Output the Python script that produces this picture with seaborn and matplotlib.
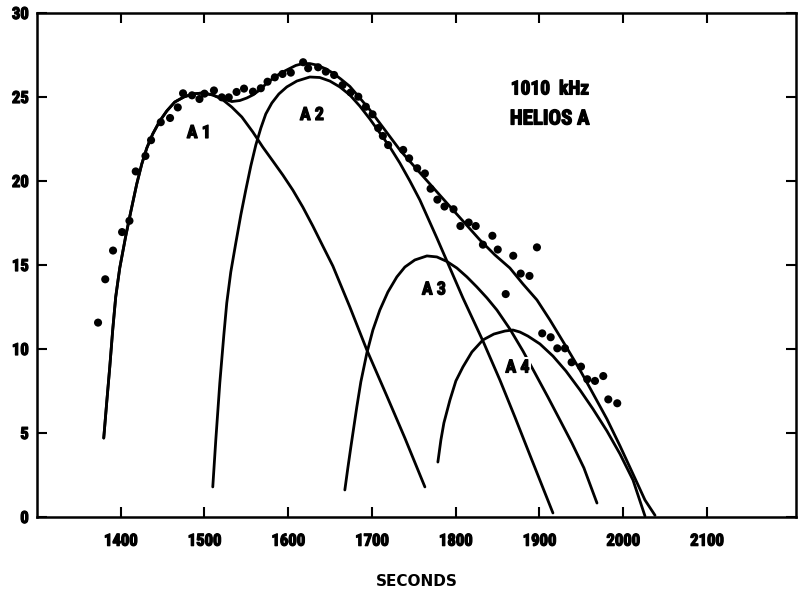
import matplotlib
matplotlib.use("Agg")
import matplotlib.pyplot as plt
from matplotlib import font_manager
import matplotlib.patheffects as pe
import seaborn as sns
import pandas as pd

# ---- data ----
dots_x = [1372.9, 1381.5, 1390.8, 1401.6, 1410.4, 1417.9, 1429.5, 1436.2, 1447.8, 1458.9,
          1468.1, 1474.4, 1485.1, 1494.0, 1500.0, 1511.3, 1520.7, 1529.0, 1538.3, 1547.2,
          1557.9, 1567.3, 1575.3, 1584.0, 1593.2, 1603.1, 1617.8, 1623.8, 1635.7, 1644.9,
          1654.8, 1664.9, 1674.5, 1683.7, 1692.7, 1700.7, 1707.4, 1713.0, 1719.3, 1737.3,
          1744.4, 1754.0, 1763.2, 1770.0, 1778.1, 1786.6, 1797.4, 1805.6, 1815.5, 1823.9,
          1832.5, 1843.8, 1850.2, 1859.7, 1868.7, 1877.6, 1888.1, 1897.0, 1903.3, 1913.4,
          1921.3, 1930.5, 1938.4, 1949.6, 1957.1, 1966.3, 1976.2, 1982.2, 1992.9]
dots_y = [11.57, 14.15, 15.86, 16.96, 17.63, 20.57, 21.49, 22.43, 23.50, 23.75,
          24.38, 25.22, 25.10, 24.88, 25.20, 25.39, 24.98, 24.98, 25.30, 25.50,
          25.32, 25.52, 25.91, 26.17, 26.37, 26.45, 27.07, 26.71, 26.77, 26.51,
          26.31, 25.71, 25.27, 25.02, 24.42, 23.97, 23.15, 22.68, 22.14, 21.85,
          21.35, 20.76, 20.45, 19.54, 18.89, 18.48, 18.32, 17.32, 17.53, 17.32,
          16.21, 16.74, 15.92, 13.27, 15.55, 14.49, 14.35, 16.05, 10.93, 10.70,
          10.04, 10.04, 9.21, 8.95, 8.20, 8.10, 8.39, 7.00, 6.77]

a1_x = [1379.7, 1383.3, 1386.9, 1390.4, 1394.0, 1398.8, 1406.0, 1411.9, 1419.1, 1425.1,
        1431.1, 1438.2, 1446.6, 1455.0, 1464.5, 1475.3, 1486.0, 1498.0, 1509.9, 1520.7,
        1532.6, 1544.6, 1557.7, 1569.6, 1581.6, 1593.5, 1605.5, 1617.4, 1629.4, 1641.3,
        1653.3, 1673.6, 1693.9, 1717.8, 1739.3, 1763.2]
a1_y = [4.70, 6.85, 8.93, 11.13, 13.10, 14.82, 16.73, 18.15, 19.82, 21.01,
        21.96, 22.80, 23.57, 24.17, 24.70, 25.00, 25.18, 25.24, 25.12, 24.88,
        24.40, 23.81, 22.92, 22.02, 21.19, 20.36, 19.46, 18.45, 17.32, 16.13,
        14.94, 12.50, 9.94, 7.20, 4.70, 1.79]

a2_x = [1509.9, 1513.5, 1518.3, 1523.1, 1526.6, 1531.4, 1537.4, 1543.4, 1549.3, 1555.3,
        1561.3, 1567.3, 1573.2, 1580.4, 1588.8, 1598.3, 1610.3, 1625.8, 1637.7, 1649.7,
        1661.6, 1673.6, 1685.5, 1697.5, 1709.4, 1721.4, 1733.3, 1745.3, 1757.2, 1777.5,
        1793.1, 1808.6, 1832.5, 1852.8, 1870.7, 1888.6, 1904.2, 1916.1]
a2_y = [1.79, 4.58, 7.98, 10.83, 12.74, 14.58, 16.31, 17.98, 19.46, 20.89,
        22.14, 23.15, 23.99, 24.64, 25.18, 25.60, 25.95, 26.19, 26.16, 25.95,
        25.60, 25.12, 24.46, 23.69, 22.86, 22.02, 21.07, 20.00, 18.87, 16.61,
        14.82, 13.04, 10.48, 8.15, 5.95, 3.69, 1.73, 0.24]

a3_x = [1667.6, 1671.2, 1674.8, 1681.9, 1686.7, 1693.9, 1701.1, 1709.4, 1719.0, 1729.7,
        1739.3, 1751.2, 1765.6, 1777.5, 1789.5, 1801.4, 1813.4, 1825.3, 1837.3, 1849.2,
        1864.7, 1880.3, 1894.6, 1910.1, 1924.5, 1938.8, 1953.1, 1968.7]
a3_y = [1.61, 2.92, 4.17, 6.55, 8.04, 9.76, 11.13, 12.32, 13.39, 14.29,
        14.88, 15.30, 15.54, 15.48, 15.21, 14.82, 14.29, 13.69, 13.04, 12.32,
        11.19, 9.88, 8.57, 7.14, 5.77, 4.40, 2.92, 0.83]

a4_x = [1778.7, 1782.3, 1785.9, 1793.1, 1800.2, 1808.6, 1819.3, 1832.5, 1845.6, 1858.8,
        1868.3, 1876.7, 1886.2, 1900.6, 1916.1, 1931.6, 1948.4, 1963.9, 1980.6, 1996.2,
        2011.7, 2026.0]
a4_y = [3.27, 4.58, 5.60, 6.96, 8.10, 8.93, 9.82, 10.54, 10.89, 11.07,
        11.13, 11.01, 10.77, 10.30, 9.58, 8.69, 7.56, 6.43, 5.12, 3.75,
        2.20, 0.06]

sum_x = [1379.7, 1383.3, 1386.9, 1390.4, 1394.0, 1398.8, 1406.0, 1411.9, 1419.1, 1425.1,
         1431.1, 1438.2, 1446.6, 1455.0, 1464.5, 1475.3, 1486.0, 1498.0, 1509.9, 1520.7,
         1532.6, 1542.2, 1550.5, 1557.7, 1566.1, 1573.2, 1581.6, 1591.2, 1601.9, 1609.1,
         1617.4, 1625.8, 1634.2, 1643.7, 1653.3, 1662.8, 1673.6, 1685.5, 1697.5, 1715.4,
         1733.3, 1751.2, 1769.2, 1788.3, 1808.6, 1828.9, 1846.8, 1864.7, 1880.3, 1897.0,
         1912.5, 1932.8, 1948.4, 1960.3, 1980.6, 1996.2, 2011.7, 2026.0, 2038.0]
sum_y = [4.70, 6.85, 8.93, 11.13, 13.10, 14.82, 16.73, 18.15, 19.82, 21.01,
         21.96, 22.80, 23.57, 24.17, 24.70, 25.00, 25.18, 25.24, 25.12, 24.91,
         24.73, 24.79, 24.94, 25.12, 25.42, 25.77, 26.10, 26.43, 26.70, 26.88,
         26.99, 26.99, 26.90, 26.70, 26.43, 26.07, 25.63, 24.94, 24.23, 23.04,
         21.85, 20.83, 19.82, 18.75, 17.62, 16.49, 15.60, 14.82, 13.87, 12.92,
         11.73, 10.06, 8.75, 7.68, 5.83, 4.23, 2.56, 1.01, 0.10]

labels = ["A 1", "A 2", "A 3", "A 4"]
label_x = [1493.2, 1628.2, 1773.9, 1873.7]
label_y = [22.86, 23.93, 13.54, 8.90]

x_ticks = [1400, 1500, 1600, 1700, 1800, 1900, 2000, 2100]
y_ticks = [0, 5, 10, 15, 20, 25, 30]

# ---- style ----
sns.set_style("ticks")
names = {f.name for f in font_manager.fontManager.ttflist}
cond = None
for cand in ["Liberation Sans Narrow", "Roboto Condensed", "DejaVu Sans Condensed",
             "Open Sans Condensed", "Noto Sans Condensed", "Arial Narrow"]:
    if cand in names:
        cond = cand
        break
if cond is None:
    cond = "DejaVu Sans"
    plt.rcParams["font.stretch"] = "condensed"
plt.rcParams["font.family"] = [cond, "DejaVu Sans"]
plt.rcParams["font.weight"] = "bold"
for k in ["text.color", "axes.labelcolor", "xtick.color", "ytick.color", "axes.edgecolor"]:
    plt.rcParams[k] = "black"

heavy = [pe.withStroke(linewidth=0.9, foreground="black")]

fig = plt.figure(figsize=(7.99, 5.93), dpi=100)
ax = fig.add_axes([37 / 799, 76 / 593, 758.7 / 799, 504 / 593])

lw = 2.0
for cx, cy in [(a1_x, a1_y), (a2_x, a2_y), (a3_x, a3_y), (a4_x, a4_y), (sum_x, sum_y)]:
    df = pd.DataFrame({"t": cx, "v": cy})
    sns.lineplot(data=df, x="t", y="v", ax=ax, color="black", lw=lw,
                 estimator=None, sort=False)

dots = pd.DataFrame({"t": dots_x, "v": dots_y})
sns.scatterplot(data=dots, x="t", y="v", ax=ax, color="black", s=34,
                edgecolor="none", zorder=4)

for txt, lx, ly in zip(labels, label_x, label_y):
    ax.text(lx, ly, txt, ha="center", va="center", fontsize=13, fontweight="bold",
            color="black", zorder=6, path_effects=heavy,
            bbox=dict(facecolor="white", edgecolor="none", pad=1.0))

ax.text(1912.5, 25.45, "1010  kHz", ha="center", va="center", fontsize=14,
        fontweight="bold", color="black", path_effects=heavy)
ax.text(1912.5, 23.69, "HELIOS A", ha="center", va="center", fontsize=15,
        fontweight="bold", color="black", path_effects=heavy)

ax.set_xlim(1300, 2206)
ax.set_ylim(0, 30)
ax.set_xticks(x_ticks)
ax.set_yticks(y_ticks)
ax.set_xticklabels([str(v) for v in x_ticks], fontsize=12, fontweight="bold")
ax.set_yticklabels([str(v) for v in y_ticks], fontsize=12, fontweight="bold")
for t in ax.get_xticklabels() + ax.get_yticklabels():
    t.set_path_effects(heavy)
ax.tick_params(axis="both", direction="in", length=7, width=1.5, colors="black",
               top=True, right=True)
ax.tick_params(axis="x", pad=12)
ax.tick_params(axis="y", pad=6)
for sp in ax.spines.values():
    sp.set_visible(True)
    sp.set_linewidth(1.8)
    sp.set_color("black")

ax.set_xlabel("SECONDS", fontsize=11, fontweight="bold", family="DejaVu Sans",
              fontstretch="normal", color="black", labelpad=18)
ax.set_ylabel("")

fig.savefig("out.png", dpi=100)
